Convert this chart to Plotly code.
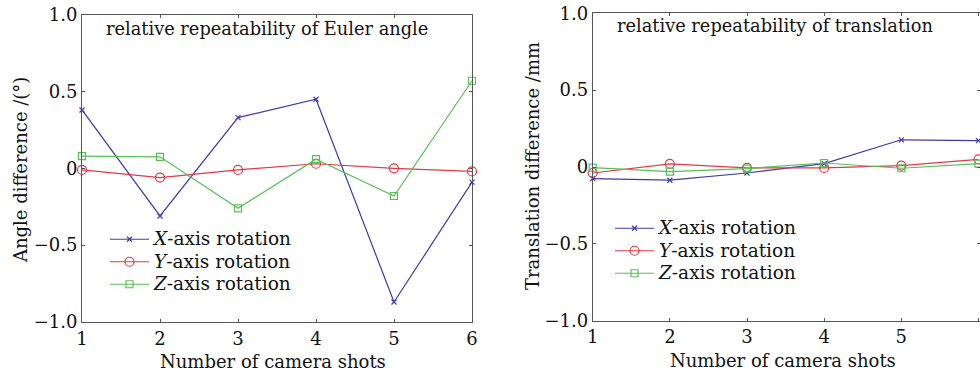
import plotly.graph_objects as go

shots = [1, 2, 3, 4, 5, 6]

# Left panel: relative repeatability of Euler angle (deg)
euler_x = [0.38, -0.31, 0.33, 0.45, -0.87, -0.09]
euler_y = [-0.01, -0.06, -0.01, 0.03, 0.00, -0.02]
euler_z = [0.08, 0.075, -0.26, 0.06, -0.18, 0.57]

# Right panel: relative repeatability of translation (mm)
trans_x = [-0.075, -0.086, -0.039, 0.022, 0.177, 0.172]
trans_y = [-0.039, 0.02, -0.006, -0.006, 0.009, 0.05]
trans_z = [-0.004, -0.03, -0.01, 0.026, -0.008, 0.022]

series_names = ["<i>X</i>-axis rotation", "<i>Y</i>-axis rotation", "<i>Z</i>-axis rotation"]
y_tickvals = [-1.0, -0.5, 0, 0.5, 1.0]
y_ticktext = ["\u22121.0", "\u22120.5", "0", "0.5", "1.0"]

colors = ["#3c3ca8", "#e23848", "#55c155"]
symbols = ["x-thin-open", "circle-open", "square-open"]
sizes = [5, 9, 7]

FONT = "DejaVu Serif"
W, H = 980, 373

def legend_name(n):
    return '<span style="font-size:18.5px">' + n + "</span>"

fig = go.Figure()

for i, vals in enumerate([euler_x, euler_y, euler_z]):
    fig.add_trace(go.Scatter(
        x=shots, y=vals, mode="lines+markers", name=legend_name(series_names[i]),
        line=dict(color=colors[i], width=1.2),
        marker=dict(symbol=symbols[i], size=sizes[i], color=colors[i],
                    line=dict(color=colors[i], width=1.2)),
        xaxis="x", yaxis="y", legend="legend", cliponaxis=False))

for i, vals in enumerate([trans_x, trans_y, trans_z]):
    fig.add_trace(go.Scatter(
        x=shots, y=vals, mode="lines+markers", name=legend_name(series_names[i]),
        line=dict(color=colors[i], width=1.2),
        marker=dict(symbol=symbols[i], size=sizes[i], color=colors[i],
                    line=dict(color=colors[i], width=1.2)),
        xaxis="x2", yaxis="y2", legend="legend2", cliponaxis=False))

def px_x(p):
    return p / W

def px_y(p):
    return 1 - p / H

axis_common = dict(
    showline=True, linecolor="#555555", linewidth=1, mirror="ticks",
    ticks="inside", ticklen=3, tickcolor="#555555", showgrid=False,
    zeroline=False, automargin=False,
    tickfont=dict(family=FONT, size=18, color="#111111"),
)

def label(text, x, y, size, angle=0):
    return dict(text=text, x=px_x(x), y=px_y(y), xref="paper", yref="paper",
                xanchor="center", yanchor="middle", showarrow=False, textangle=angle,
                font=dict(family=FONT, size=size, color="#111111"))

legend_common = dict(xanchor="left", yanchor="top", bgcolor="rgba(0,0,0,0)",
                     borderwidth=0, tracegroupgap=0, itemwidth=39,
                     font=dict(family=FONT, size=15, color="#111111"))

fig.update_layout(
    width=W, height=H,
    margin=dict(l=0, r=0, t=0, b=0, autoexpand=False),
    paper_bgcolor="white", plot_bgcolor="white",
    font=dict(family=FONT, color="#111111"),
    xaxis=dict(domain=[px_x(82), px_x(472)], range=[1, 6], tickvals=shots,
               anchor="y", ticklabelstandoff=0, **axis_common),
    yaxis=dict(domain=[px_y(322), px_y(14.7)], range=[-1, 1],
               tickvals=y_tickvals, ticktext=y_ticktext, anchor="x", **axis_common),
    xaxis2=dict(domain=[px_x(592.7), 1.0], range=[1, 6.02], tickvals=shots,
                anchor="y2", ticklabelstandoff=0, **axis_common),
    yaxis2=dict(domain=[px_y(320.7), px_y(13.3)], range=[-1, 1],
                tickvals=y_tickvals, ticktext=y_ticktext, anchor="x2", **axis_common),
    legend=dict(x=px_x(105), y=px_y(223), **legend_common),
    legend2=dict(x=px_x(610), y=px_y(212), **legend_common),
    annotations=[
        label("relative repeatability of Euler angle", 267, 28, 17.8),
        label("relative repeatability of translation", 775, 25, 17.8),
        label("Number of camera shots", 272.5, 361, 18),
        label("Number of camera shots", 783, 360, 18),
        label("Angle difference /(\u00b0)", 20, 170, 18, -90),
        label("Translation difference /mm", 532, 166, 18, -90),
    ],
)

fig.write_html("out.html", config={"displayModeBar": False},
               post_script="document.body.style.margin='0';")
